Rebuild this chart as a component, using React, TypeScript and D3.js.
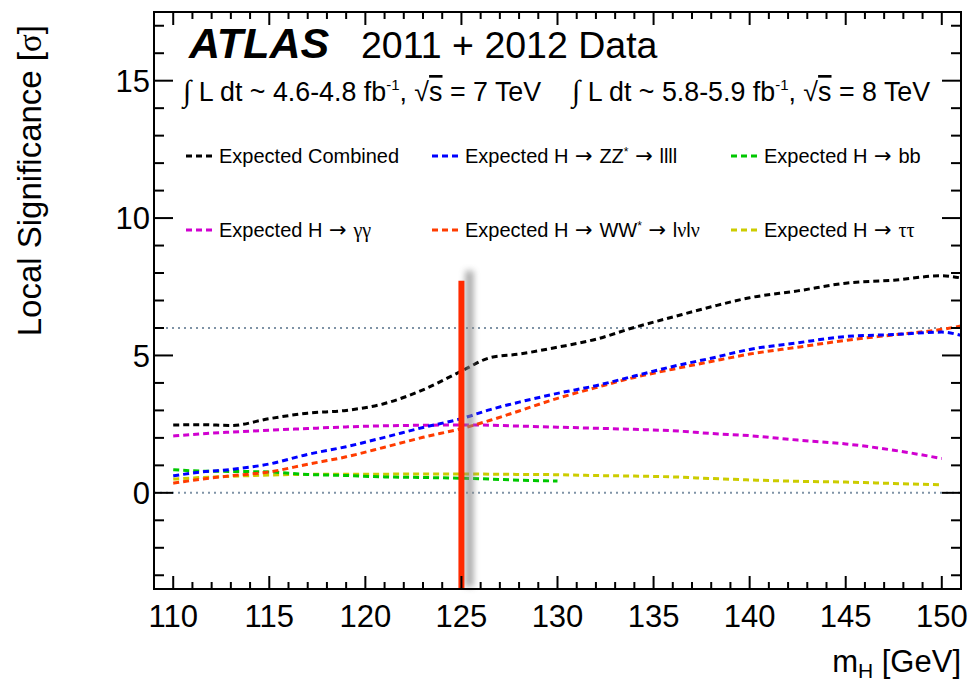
import React from "react";
import * as d3 from "d3";

// Higgs mass points (GeV) shared by all expected-significance curves
const MASS = [110, 111.5, 113, 115, 117, 119, 121, 123, 125, 126.5, 128, 130, 132, 134, 136, 138, 140, 142.5, 145, 147.5, 150, 151];

// Expected local significance per channel (sigma); shorter arrays end earlier in mass
const COMBINED = [2.47, 2.48, 2.45, 2.7, 2.9, 3.0, 3.25, 3.75, 4.43, 4.92, 5.05, 5.3, 5.59, 6.02, 6.4, 6.77, 7.1, 7.35, 7.63, 7.74, 7.9, 7.82];
const ZZ = [0.62, 0.76, 0.85, 1.05, 1.4, 1.68, 2.02, 2.38, 2.7, 3.03, 3.3, 3.62, 3.9, 4.25, 4.6, 4.9, 5.22, 5.46, 5.69, 5.76, 5.85, 5.73];
const BB = [0.84, 0.79, 0.78, 0.76, 0.67, 0.63, 0.58, 0.56, 0.53, 0.5, 0.46, 0.43];
const GAMGAM = [2.07, 2.15, 2.21, 2.28, 2.34, 2.4, 2.44, 2.46, 2.47, 2.46, 2.43, 2.39, 2.35, 2.31, 2.26, 2.16, 2.08, 1.92, 1.78, 1.55, 1.25];
const WW = [0.35, 0.5, 0.62, 0.76, 1.04, 1.31, 1.66, 2.02, 2.34, 2.64, 2.98, 3.44, 3.83, 4.2, 4.5, 4.78, 5.05, 5.3, 5.55, 5.75, 5.95, 6.07];
const TAUTAU = [0.5, 0.56, 0.6, 0.65, 0.67, 0.68, 0.68, 0.69, 0.69, 0.68, 0.67, 0.66, 0.63, 0.61, 0.58, 0.52, 0.47, 0.42, 0.39, 0.34, 0.29];

const X_TICKS = [110, 115, 120, 125, 130, 135, 140, 145, 150];
const Y_TICKS = [0, 5, 10, 15];
const REF_LINES = [0, 6];
const MARKER_MASS = 125;
const MARKER_TOP = 7.72;

const W = 973;
const H = 689;
const L = 154, R = 961, T = 12, B = 589;

const x = d3.scaleLinear().domain([109, 151]).range([L, R]);
const y = d3.scaleLinear().domain([-3.5, 17.5]).range([B, T]);

const FONT = "'Liberation Sans', Arial, Helvetica, sans-serif";
const SYM = "'Liberation Serif', 'DejaVu Serif', serif";
const ARROW = "'DejaVu Sans', sans-serif";

type Series = { key: string; values: number[]; color: string };
const SERIES: Series[] = [
  { key: "gg", values: GAMGAM, color: "#d000d0" },
  { key: "tt", values: TAUTAU, color: "#cccc00" },
  { key: "bb", values: BB, color: "#00c800" },
  { key: "ww", values: WW, color: "#ff3c00" },
  { key: "zz", values: ZZ, color: "#0000ff" },
  { key: "comb", values: COMBINED, color: "#000000" },
];

const line = d3
  .line<number>()
  .x((_, i) => x(MASS[i]))
  .y((v) => y(v))
  .curve(d3.curveMonotoneX);

function LegendLabel({ id }: { id: string }) {
  const arrow = (
    <tspan fontFamily={ARROW} fontSize={21}>
      {" "}→{" "}
    </tspan>
  );
  switch (id) {
    case "comb":
      return <>Expected Combined</>;
    case "zz":
      return (
        <>
          Expected H{arrow}ZZ<tspan dy={-7} fontSize={12}>*</tspan>
          <tspan dy={7}>{arrow}llll</tspan>
        </>
      );
    case "bb":
      return <>Expected H{arrow}bb</>;
    case "gg":
      return (
        <>
          Expected H{arrow}<tspan fontFamily={SYM}>γγ</tspan>
        </>
      );
    case "ww":
      return (
        <>
          Expected H{arrow}WW<tspan dy={-7} fontSize={12}>*</tspan>
          <tspan dy={7}>{arrow}l</tspan>
          <tspan fontFamily={SYM}>ν</tspan>l<tspan fontFamily={SYM}>ν</tspan>
        </>
      );
    case "tt":
      return (
        <>
          Expected H{arrow}<tspan fontFamily={SYM}>ττ</tspan>
        </>
      );
  }
  return null;
}

const LEGEND = [
  { id: "comb", color: "#000000", col: 0, row: 0 },
  { id: "zz", color: "#0000ff", col: 1, row: 0 },
  { id: "bb", color: "#00c800", col: 2, row: 0 },
  { id: "gg", color: "#d000d0", col: 0, row: 1 },
  { id: "ww", color: "#ff3c00", col: 1, row: 1 },
  { id: "tt", color: "#cccc00", col: 2, row: 1 },
];
const LEG_COL_X = [186, 432, 731];
const LEG_ROW_Y = [156, 230];

export default function App() {
  const yMinor = d3.range(-3, 18);
  const xMinor = d3.range(109, 152);
  return (
    <svg
      width={W}
      height={H}
      viewBox={`0 0 ${W} ${H}`}
      style={{ position: "absolute", left: 0, top: 0, background: "#fff" }}
      fontFamily={FONT}
    >
      <defs>
        <clipPath id="plot">
          <rect x={L} y={T} width={R - L} height={B - T} />
        </clipPath>
        <filter id="shadow" x="-200%" y="-20%" width="500%" height="140%">
          <feGaussianBlur stdDeviation="3" />
        </filter>
      </defs>
      <rect width={W} height={H} fill="#fff" />

      {/* reference significance levels */}
      {REF_LINES.map((v) => (
        <line
          key={v}
          x1={L}
          x2={R}
          y1={y(v)}
          y2={y(v)}
          stroke="#7f93a6"
          strokeWidth={2}
          strokeDasharray="2 4"
        />
      ))}

      {/* expected significance curves */}
      <g clipPath="url(#plot)">
        {SERIES.map((s) => (
          <path
            key={s.key}
            d={line(s.values) || ""}
            fill="none"
            stroke={s.color}
            strokeWidth={3}
            strokeDasharray="6 4"
          />
        ))}
      </g>

      {/* 125 GeV marker with soft shadow */}
      <rect
        x={x(MARKER_MASS) + 4}
        y={y(MARKER_TOP) - 10}
        width={8}
        height={B - y(MARKER_TOP) + 8}
        fill="#8a8a8a"
        opacity={0.75}
        filter="url(#shadow)"
      />
      <line
        x1={x(MARKER_MASS)}
        x2={x(MARKER_MASS)}
        y1={y(MARKER_TOP)}
        y2={B}
        stroke="#ff2a00"
        strokeWidth={6}
      />

      {/* frame and ticks */}
      <rect x={L} y={T} width={R - L} height={B - T} fill="none" stroke="#000" strokeWidth={2} />
      {yMinor.map((v) => {
        const len = v % 5 === 0 ? 19 : 10;
        return (
          <g key={`yt${v}`} stroke="#000" strokeWidth={2}>
            <line x1={L} x2={L + len} y1={y(v)} y2={y(v)} />
            <line x1={R} x2={R - len} y1={y(v)} y2={y(v)} />
          </g>
        );
      })}
      {xMinor.map((m) => {
        const len = m % 5 === 0 ? 13 : 7;
        return (
          <g key={`xt${m}`} stroke="#000" strokeWidth={2}>
            <line x1={x(m)} x2={x(m)} y1={B} y2={B - len} />
            <line x1={x(m)} x2={x(m)} y1={T} y2={T + len} />
          </g>
        );
      })}

      {/* tick labels */}
      {Y_TICKS.map((v) => (
        <text key={`yl${v}`} x={150} y={y(v)} dy="0.36em" textAnchor="end" fontSize={31}>
          {v}
        </text>
      ))}
      {X_TICKS.map((m) => (
        <text key={`xl${m}`} x={x(m)} y={627} textAnchor="middle" fontSize={31}>
          {m}
        </text>
      ))}

      {/* axis titles */}
      <text
        transform="translate(41,25) rotate(-90)"
        textAnchor="end"
        fontSize={33}
      >
        Local Significance [<tspan fontFamily={SYM}>σ</tspan>]
      </text>
      <text x={961} y={672} textAnchor="end" fontSize={31}>
        m<tspan dy={6} fontSize={21}>H</tspan>
        <tspan dy={-6}> [GeV]</tspan>
      </text>

      {/* title */}
      <text x={189} y={58} fontSize={43} fontWeight="bold" fontStyle="italic">
        ATLAS
      </text>
      <text x={361} y={58} fontSize={37.5}>
        2011 + 2012 Data
      </text>
      {[
        { x0: 183, lumi: "4.6-4.8", e: "7" },
        { x0: 572, lumi: "5.8-5.9", e: "8" },
      ].map((t) => (
        <text key={t.x0} x={t.x0} y={101} fontSize={26.8}>
          <tspan fontFamily={SYM} fontSize={30}>∫</tspan> L dt ~ {t.lumi} fb
          <tspan dy={-11} fontSize={15}>-1</tspan>
          <tspan dy={11}>, √</tspan>
          <tspan textDecoration="overline">s</tspan> = {t.e} TeV
        </text>
      ))}

      {/* legend */}
      {LEGEND.map((e) => {
        const lx = LEG_COL_X[e.col];
        const ly = LEG_ROW_Y[e.row];
        return (
          <g key={e.id}>
            <line
              x1={lx}
              x2={lx + 26}
              y1={ly}
              y2={ly}
              stroke={e.color}
              strokeWidth={3}
              strokeDasharray="6 4"
            />
            <text x={lx + 33} y={ly + 7} fontSize={20}>
              <LegendLabel id={e.id} />
            </text>
          </g>
        );
      })}
    </svg>
  );
}
